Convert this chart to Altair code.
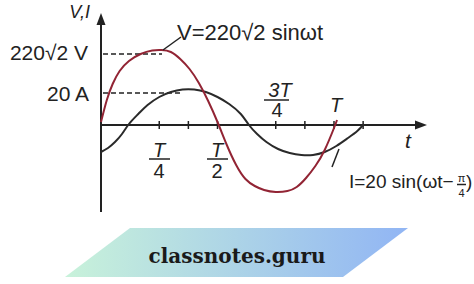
import altair as alt
import pandas as pd

# ---- data (t in periods T, value in chart units above the t axis)
v_t = [0.0, 0.025, 0.05, 0.08, 0.12, 0.17, 0.22, 0.26, 0.30, 0.34, 0.38, 0.42, 0.46, 0.50,
       0.54, 0.58, 0.62, 0.66, 0.70, 0.75, 0.80, 0.84, 0.88, 0.92, 0.96, 1.00, 1.013]
v_val = [3, 25, 41, 54, 64, 71, 74.5, 75, 73, 66, 56, 42, 24, 3,
         -20, -40, -54, -61, -65, -67, -66, -62, -53, -41, -25, -3, 5]

i_t = [0.0, 0.03, 0.06, 0.09, 0.12, 0.16, 0.20, 0.25, 0.30, 0.35, 0.40, 0.45, 0.50, 0.55,
       0.60, 0.635, 0.67, 0.71, 0.76, 0.81, 0.86, 0.91, 0.96, 1.01, 1.06, 1.10, 1.129]
i_val = [-27, -23, -17, -9, 1, 11, 20, 28, 33, 35.5, 35.5, 33, 28, 21,
         11, 0, -9, -17, -24, -28, -30, -30, -27, -21, -13, -6, 1]

tick_k = [2, 3, 4, 6, 7, 8, 9]          # tick marks at k*T/8
v_peak_label = "220√2 V"
i_peak_label = "20 A"
v_eq = "V=220√2 sinωt"
i_eq = "I=20 sin(ωt−"
brand = "classnotes.guru"

# ---- geometry helpers (pixel reading -> chart units)
X0, Y0, TPX = 101, 125, 233.0
def tx(px):
    return (px - X0) / TPX
def vy(py):
    return Y0 - py

xs = alt.Scale(domain=[tx(0), tx(474)], nice=False, zero=False)
ys = alt.Scale(domain=[vy(284), vy(0)], nice=False, zero=False)

def X(f="t"):
    return alt.X(f"{f}:Q", scale=xs, axis=None)
def Y(f="v"):
    return alt.Y(f"{f}:Q", scale=ys, axis=None)

SANS = "Liberation Sans"
INK = "#222222"
RED = "#922434"

layers = []

# watermark banner
banner = pd.DataFrame({"v": [vy(228), vy(277)], "xl": [tx(130), tx(65)], "xr": [tx(408), tx(343)]})
layers.append(alt.Chart(banner).mark_area(
    orient="horizontal",
    fill=alt.Gradient(gradient="linear",
                      stops=[alt.GradientStop(color="#c8f2da", offset=0),
                             alt.GradientStop(color="#91b5f4", offset=1)],
                      x1=0, x2=1, y1=0, y2=0),
    opacity=1).encode(y=Y("v"), x=X("xl"), x2="xr:Q"))
layers.append(alt.Chart(pd.DataFrame({"t": [tx(237)], "v": [vy(263)], "s": [brand]})).mark_text(
    font="DejaVu Serif", fontSize=20, fontWeight="bold", color="#1a1a1a",
    align="center", baseline="alphabetic").encode(x=X(), y=Y(), text="s:N"))

# axes
layers.append(alt.Chart(pd.DataFrame({"t": [0.0], "v": [vy(22)], "v2": [vy(212)]})).mark_rule(
    color=INK, strokeWidth=2).encode(x=X(), y=Y(), y2="v2:Q"))
layers.append(alt.Chart(pd.DataFrame({"t": [0.0], "t2": [tx(417)], "v": [0.0]})).mark_rule(
    color=INK, strokeWidth=2).encode(x=X(), x2="t2:Q", y=Y()))
layers.append(alt.Chart(pd.DataFrame({"t": [0.0], "v": [vy(19)]})).mark_point(
    shape="M0,-1L0.75,1L-0.75,1Z", filled=True, size=144, color=INK, opacity=1).encode(x=X(), y=Y()))
layers.append(alt.Chart(pd.DataFrame({"t": [tx(421)], "v": [0.0]})).mark_point(
    shape="M1,0L-1,0.75L-1,-0.75Z", filled=True, size=144, color=INK, opacity=1).encode(x=X(), y=Y()))

# ticks
ticks = pd.DataFrame({"t": [k / 8 for k in tick_k], "v": [4.0] * len(tick_k), "v2": [-4.0] * len(tick_k)})
layers.append(alt.Chart(ticks).mark_rule(color=INK, strokeWidth=1.5).encode(x=X(), y=Y(), y2="v2:Q"))

# dashed guides
dash = pd.DataFrame({"t": [tx(103), tx(103)], "t2": [tx(162), tx(180)], "v": [vy(54), vy(93)]})
layers.append(alt.Chart(dash).mark_rule(color=INK, strokeWidth=1.5, strokeDash=[5, 3]).encode(
    x=X(), x2="t2:Q", y=Y()))

# curves
layers.append(alt.Chart(pd.DataFrame({"t": i_t, "v": i_val})).mark_line(
    color="#2a2a2a", strokeWidth=2, interpolate="natural").encode(x=X(), y=Y()))
layers.append(alt.Chart(pd.DataFrame({"t": v_t, "v": v_val})).mark_line(
    color=RED, strokeWidth=2, interpolate="natural").encode(x=X(), y=Y()))

# leader lines
lead = pd.DataFrame({"t": [tx(163), tx(339)], "v": [vy(50), vy(149)],
                     "t2": [tx(181), tx(332)], "v2": [vy(37), vy(167)]})
layers.append(alt.Chart(lead).mark_rule(color=INK, strokeWidth=1.5).encode(
    x=X(), y=Y(), x2="t2:Q", y2="v2:Q"))

# fraction bars
bars = pd.DataFrame({"t": [tx(149), tx(207), tx(264), tx(457)],
                     "t2": [tx(170), tx(228), tx(289), tx(466)],
                     "v": [vy(159), vy(159), vy(100), vy(184.5)]})
layers.append(alt.Chart(bars).mark_rule(color=INK, strokeWidth=1.5).encode(x=X(), x2="t2:Q", y=Y()))

def label(items, **kw):
    df = pd.DataFrame({"t": [tx(a) for a, b, c in items], "v": [vy(b) for a, b, c in items],
                       "s": [c for a, b, c in items]})
    base = dict(font=SANS, color=INK, baseline="alphabetic")
    base.update(kw)
    return alt.Chart(df).mark_text(**base).encode(x=X(), y=Y(), text="s:N")

layers.append(label([(90, 18, "V,I")], fontSize=18, fontStyle="italic", align="right"))
layers.append(label([(88, 60, v_peak_label), (89, 101, i_peak_label)], fontSize=21, align="right"))
layers.append(label([(177, 40, v_eq)], fontSize=22, align="left"))
layers.append(label([(349, 188, i_eq)], fontSize=19, align="left"))
layers.append(label([(466, 188, ")")], fontSize=19, align="left"))
layers.append(label([(159, 157, "T"), (217, 157, "T"), (280, 97, "3T"), (336, 112, "T")],
                    fontSize=20, fontStyle="italic", align="center"))
layers.append(label([(159, 178, "4"), (217, 178, "2"), (277, 117, "4")], fontSize=20, align="center"))
layers.append(label([(408, 148, "t")], fontSize=21, fontStyle="italic", align="center"))
layers.append(label([(461.5, 181.5, "π")], fontSize=11, align="center"))
layers.append(label([(461.5, 197, "4")], fontSize=11, align="center"))

chart = alt.layer(*layers).properties(
    width=474, height=284, padding=0, autosize=alt.AutoSizeParams(type="none"),
    background="white"
).configure_view(stroke=None)

chart.save("out.html", embed_options={"renderer": "svg", "actions": False})
